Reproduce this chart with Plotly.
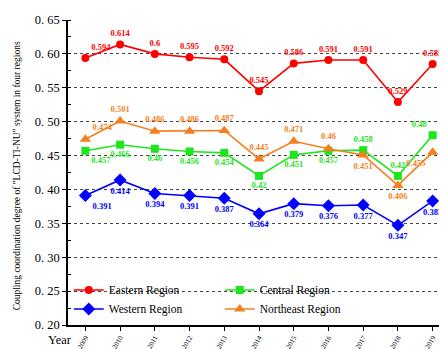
import plotly.graph_objects as go

years = [2009, 2010, 2011, 2012, 2013, 2014, 2015, 2016, 2017, 2018, 2019]
eastern = [0.594, 0.614, 0.6, 0.595, 0.592, 0.545, 0.586, 0.591, 0.591, 0.529, 0.585]
central = [0.457, 0.466, 0.46, 0.456, 0.454, 0.42, 0.451, 0.457, 0.458, 0.42, 0.48]
western = [0.391, 0.414, 0.394, 0.391, 0.387, 0.364, 0.379, 0.376, 0.377, 0.347, 0.383]
northeast = [0.474, 0.501, 0.486, 0.486, 0.487, 0.445, 0.471, 0.46, 0.451, 0.406, 0.455]
y_ticks = [0.20, 0.25, 0.30, 0.35, 0.40, 0.45, 0.50, 0.55, 0.60, 0.65]
y_ticktext = ["0. 20", "0. 25", "0. 30", "0. 35", "0. 40", "0. 45", "0. 50", "0. 55", "0. 60", "0. 65"]

SERIF = "Liberation Serif, Times New Roman, serif"

pos_e = ["top right"] + ["top center"] * 10
pos_c = ["bottom right"] + ["bottom center"] * 7 + ["top center", "top center", "top left"]
pos_w = ["bottom right"] + ["bottom center"] * 10
pos_n = ["top right"] + ["top center"] * 7 + ["bottom center", "bottom center", "bottom left"]

def fmt(v):
    return ("%.3f" % v).rstrip("0").rstrip(".")

series = [
    ("Eastern Region", eastern, "#FF0000", "circle", 8, pos_e),
    ("Central Region", central, "#1EE61E", "square", 8, pos_c),
    ("Western Region", western, "#0000FF", "diamond", 10, pos_w),
    ("Northeast Region", northeast, "#F57F1F", "triangle-up", 10, pos_n),
]

fig = go.Figure()
for name, vals, color, sym, size, pos in series:
    fig.add_trace(go.Scatter(
        x=years, y=vals, name=name, mode="lines+markers+text",
        line=dict(color=color, width=1.6),
        marker=dict(symbol=sym, size=size, color=color, line=dict(width=0)),
        text=[fmt(v) for v in vals], textposition=pos,
        textfont=dict(family=SERIF, size=8.5, color=color, weight="bold"),
        cliponaxis=False,
    ))

axis_line = dict(showline=True, linecolor="black", linewidth=1.5)

fig.update_layout(
    width=447, height=349,
    margin=dict(l=60, r=5, t=8, b=32),
    paper_bgcolor="white", plot_bgcolor="white",
    font=dict(family=SERIF, color="black"),
    showlegend=True,
    legend=dict(orientation="h", x=0.002, y=0.005, xanchor="left", yanchor="bottom",
                entrywidth=106, entrywidthmode="pixels", itemwidth=30,
                font=dict(family=SERIF, size=11.5), bgcolor="rgba(0,0,0,0)",
                tracegroupgap=0),
    xaxis=dict(range=[2008.5, 2019.5], tickmode="array", tickvals=years,
               ticktext=[str(y) for y in years], tickangle=-60,
               ticks="outside", ticklen=4, tickwidth=1, tickcolor="black",
               tickfont=dict(family=SERIF, size=7), showgrid=False, zeroline=False,
               **axis_line),
    yaxis=dict(range=[0.2, 0.65], tickmode="array", tickvals=y_ticks, ticktext=y_ticktext,
               ticks="outside", ticklen=4, tickwidth=1, tickcolor="black",
               minor=dict(ticks="inside", ticklen=3, dtick=0.025, tick0=0.2, tickcolor="black", showgrid=False),
               tickfont=dict(family=SERIF, size=12.5),
               showgrid=True, gridcolor="#444444", griddash="dot", gridwidth=1,
               zeroline=False, **axis_line),
    xaxis2=dict(overlaying="x", side="top", range=[2008.5, 2019.5], tickmode="array",
                tickvals=years, ticks="inside", ticklen=4, tickcolor="black",
                minor=dict(ticks="inside", ticklen=2, dtick=1, tick0=2008.5, tickcolor="black"),
                showticklabels=False, showgrid=False, zeroline=False, **axis_line),
    yaxis2=dict(overlaying="y", side="right", range=[0.2, 0.65], tickmode="array",
                tickvals=y_ticks, ticks="inside", ticklen=4, tickcolor="black",
                minor=dict(ticks="inside", ticklen=2, dtick=0.025, tick0=0.2, tickcolor="black"),
                showticklabels=False, showgrid=False, zeroline=False, **axis_line),
)

fig.add_annotation(text='Coupling coordination degree of "LCD-TI-NU" system in four regions',
                   xref="paper", yref="paper", x=-0.134, y=0.49, textangle=-90,
                   showarrow=False, font=dict(family=SERIF, size=9.5), xanchor="center", yanchor="middle")
fig.add_annotation(text="Year", xref="paper", yref="paper", x=-0.021, y=-0.05,
                   showarrow=False, font=dict(family=SERIF, size=12.5), xanchor="center", yanchor="middle")

fig.write_html("out.html")
